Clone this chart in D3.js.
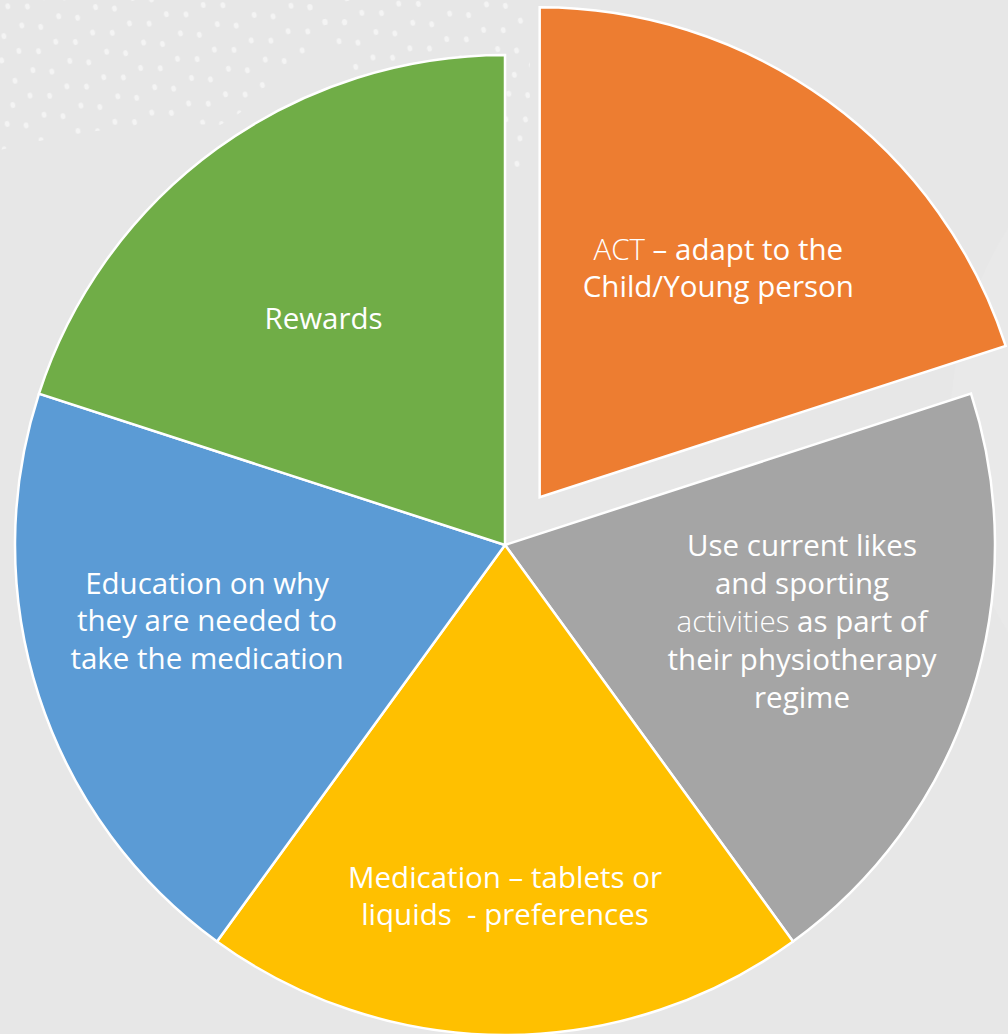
<!DOCTYPE html>
<meta charset="utf-8">
<title>pie - adherence ideas</title>
<style>
body { margin: 0; background: #e7e7e7; }
svg { display: block; }
text.lbl { fill: #fff; font-family: "Open Sans", sans-serif; font-size: 29.5px; }
</style>
<script src="https://d3js.org/d3.v7.min.js"></script>
<body>
<script>
// slices, clockwise from 12 o'clock
var labels = ["ACT – adapt to the Child/Young person",
              "Use current likes and sporting activities as part of their physiotherapy regime",
              "Medication – tablets or liquids  - preferences",
              "Education on why they are needed to take the medication",
              "Rewards"];
var values = [1, 1, 1, 1, 1];
var colors = ["#ED7D31", "#A5A5A5", "#FFC000", "#5B9BD5", "#70AD47"];
var exploded = [59, 0, 0, 0, 0];
// wrapped lines; parts split by | and starting with * are set in light weight
var lines = [
  ["*ACT| – adapt to the", "Child/Young person"],
  ["Use current likes", "and sporting", "*activities| as part of", "their physiotherapy", "regime"],
  ["Medication – tablets or", "liquids\u00a0 - preferences"],
  ["Education on why", "they are needed to", "take the medication"],
  ["Rewards"]
];
// label anchor: offset from the slice centre along the bisector, plus nudge
var labelRadius = [292, 306, 352, 307, 290];
var labelNudge = [[7, 7], [6, -18], [0, -1], [-6, -19], [-11, 8]];

var width = 1008, height = 1034;
var cx = 505, cy = 545, R = 490;

var svg = d3.select("body").append("svg")
    .attr("width", width)
    .attr("height", height);

// background decoration: faint dots top-left, faint circle on the right
var defs = svg.append("defs");
var pat = defs.append("pattern")
    .attr("id", "dots")
    .attr("width", 38).attr("height", 46)
    .attr("patternUnits", "userSpaceOnUse")
    .attr("patternTransform", "rotate(-14)");
[[6, 8], [25, 13], [15, 30], [33, 36]].forEach(function(p) {
  pat.append("ellipse").attr("cx", p[0]).attr("cy", p[1]).attr("rx", 2.4).attr("ry", 3)
      .attr("fill", "#f4f4f4");
});
svg.append("circle")
    .attr("cx", 1330).attr("cy", 430).attr("r", 380)
    .attr("fill", "#e9e9e9");
svg.append("path")
    .attr("d", "M0,0 L370,0 Q330,40 300,60 Q250,110 220,125 Q120,120 0,150 Z")
    .attr("fill", "url(#dots)");
svg.append("path")
    .attr("d", "M300,0 L530,0 L530,180 Q450,130 380,110 Z")
    .attr("fill", "url(#dots)");

var pie = d3.pie().sort(null).value(function(d) { return d; });
var arcs = pie(values);
var arc = d3.arc().innerRadius(0).outerRadius(R);

var g = svg.append("g").attr("transform", "translate(" + cx + "," + cy + ")");

var slice = g.selectAll("g.slice")
    .data(arcs)
  .enter().append("g")
    .attr("class", "slice")
    .attr("transform", function(d, i) {
      var a = (d.startAngle + d.endAngle) / 2;
      return "translate(" + (Math.sin(a) * exploded[i]) + "," + (-Math.cos(a) * exploded[i]) + ")";
    });

slice.append("path")
    .attr("d", arc)
    .attr("fill", function(d, i) { return colors[i]; })
    .attr("stroke", "#fff")
    .attr("stroke-width", 2.5)
    .attr("stroke-linejoin", "miter");

var lh = 37.8;
slice.each(function(d, i) {
  var a = (d.startAngle + d.endAngle) / 2;
  var x = Math.sin(a) * labelRadius[i] + labelNudge[i][0],
      y = -Math.cos(a) * labelRadius[i] + labelNudge[i][1];
  var ls = lines[i];
  var t = d3.select(this).append("text")
      .attr("class", "lbl")
      .attr("text-anchor", "middle")
      .attr("aria-label", labels[i]);
  ls.forEach(function(l, k) {
    var yy = y + (k - (ls.length - 1) / 2) * lh + 10.5;
    l.split("|").forEach(function(p, j) {
      var light = p.charAt(0) == "*";
      var span = t.append("tspan").text(light ? p.slice(1) : p)
          .style("font-weight", light ? 300 : 400);
      if (j == 0) span.attr("x", x).attr("y", yy);
    });
  });
});
</script>
